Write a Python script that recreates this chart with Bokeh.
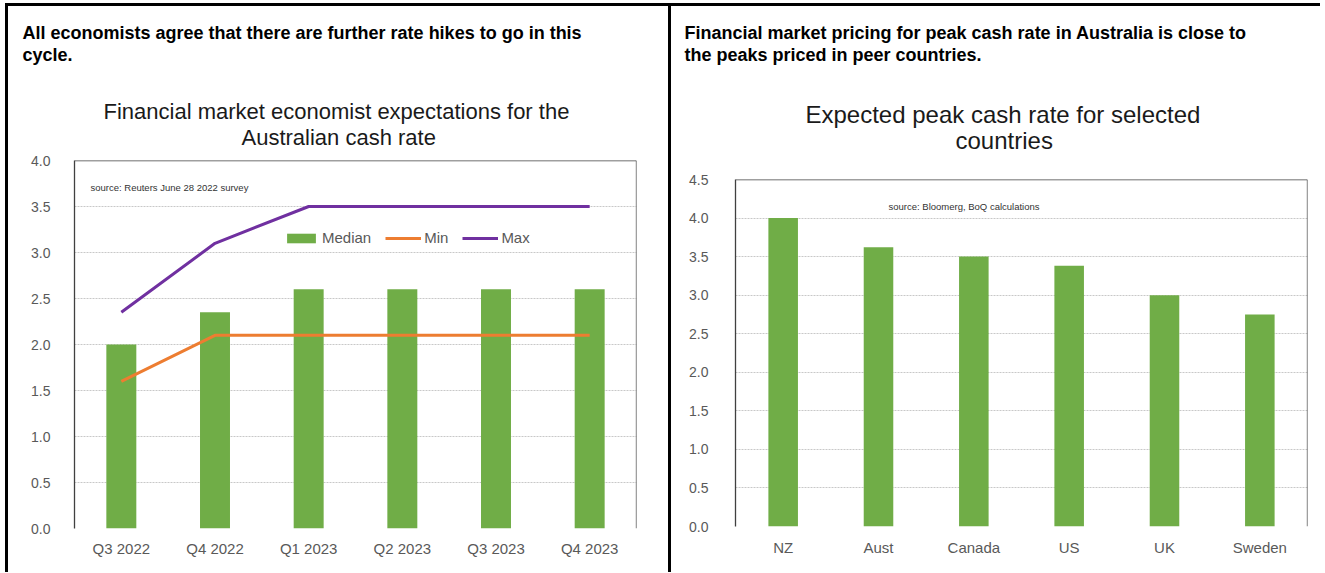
from bokeh.plotting import figure
from bokeh.models import (Label, Legend, LegendItem, Span, FactorRange, Range1d, Title,
                          SingleIntervalTicker, NumeralTickFormatter)
from bokeh.layouts import row, column
from bokeh.embed import file_html
from bokeh.resources import INLINE

# ---- data ----
quarters = ["Q3 2022", "Q4 2022", "Q1 2023", "Q2 2023", "Q3 2023", "Q4 2023"]
median = [2.0, 2.35, 2.6, 2.6, 2.6, 2.6]
minimum = [1.6, 2.1, 2.1, 2.1, 2.1, 2.1]
maximum = [2.35, 3.1, 3.5, 3.5, 3.5, 3.5]

countries = ["NZ", "Aust", "Canada", "US", "UK", "Sweden"]
peak = [4.0, 3.62, 3.5, 3.38, 3.0, 2.75]

GREEN = "#70AD47"
ORANGE = "#ED7D31"
PURPLE = "#7030A0"
FONT = "Liberation Sans"
TICK = "#595959"
FRAME = "#404040"


def style(p, ymax, ystand, xstand):
    p.outline_line_color = None
    p.background_fill_color = "white"
    p.border_fill_color = "white"
    p.xgrid.grid_line_color = None
    p.ygrid.grid_line_color = "#c8c8c8"
    p.ygrid.grid_line_dash = "2 1"
    p.yaxis.ticker = SingleIntervalTicker(interval=0.5)
    p.yaxis.formatter = NumeralTickFormatter(format="0.0")
    for ax in (p.xaxis[0], p.yaxis[0]):
        ax.major_tick_line_color = None
        ax.minor_tick_line_color = None
        ax.major_label_text_font = FONT
        ax.major_label_text_color = TICK
    p.xaxis.major_label_text_font_size = "15px"
    p.yaxis.major_label_text_font_size = "14px"
    p.yaxis.axis_line_color = FRAME
    p.yaxis.axis_line_width = 1.3
    p.xaxis.axis_line_color = None
    p.yaxis.major_label_standoff = ystand
    p.xaxis.major_label_standoff = xstand
    p.add_layout(Span(location=ymax, dimension="width", line_color=FRAME, line_width=1.3))
    p.add_layout(Span(location=6, dimension="height", line_color=FRAME, line_width=1.3))


def spacer(p, s):
    p.add_layout(Title(text=" ", text_font_size="2px", standoff=s), "above")


def ctitle(p, s, off, so, size):
    p.add_layout(Title(text=s, align="left", offset=off, text_font=FONT, text_font_size=size,
                       text_font_style="normal", text_color="#1a1a1a", standoff=so), "above")


def htitle(p, s, off, so):
    p.add_layout(Title(text=s, align="left", offset=off, text_font=FONT, text_font_size="18px",
                       text_font_style="bold", text_color="black", standoff=so), "above")


def source(p, x, y, s):
    p.add_layout(Label(x=x, y=y, x_units="screen", y_units="screen", text=s,
                       text_font=FONT, text_font_size="9.5px", text_color="#333333",
                       text_baseline="middle"))


# ---- left panel ----
p1 = figure(frame_width=562, frame_height=368, x_range=FactorRange(*quarters, range_padding=0),
            y_range=Range1d(0, 4.0), output_backend="svg", toolbar_location=None, title=None,
            min_border_left=66, min_border_right=32, min_border_top=154, min_border_bottom=44)
style(p1, 4.0, 18, 5)
bars1 = p1.vbar(x=quarters, top=median, width=0.32, fill_color=GREEN, line_color=None)
lmin = p1.line(x=quarters, y=minimum, line_color=ORANGE, line_width=3)
lmax = p1.line(x=quarters, y=maximum, line_color=PURPLE, line_width=3)
leg = Legend(items=[LegendItem(label="Median", renderers=[bars1]),
                    LegendItem(label="Min", renderers=[lmin]),
                    LegendItem(label="Max", renderers=[lmax])],
             orientation="horizontal", location=(209, 282), margin=0, padding=0,
             border_line_color=None, background_fill_alpha=0,
             glyph_width=36, glyph_height=12, label_height=12, label_standoff=3, spacing=14,
             label_text_font=FONT, label_text_font_size="15px", label_text_color=TICK)
p1.add_layout(leg, "center")
spacer(p1, 7)
ctitle(p1, "Australian cash rate", 167, 0, "22px")
ctitle(p1, "Financial market economist expectations for the", 29, -3, "22px")
spacer(p1, 29.5)
htitle(p1, "cycle.", -52, 0)
htitle(p1, "All economists agree that there are further rate hikes to go in this", -52, 0)
source(p1, 16, 341, "source:  Reuters June 28 2022 survey")

# ---- right panel ----
p2 = figure(frame_width=572, frame_height=347, x_range=FactorRange(*countries, range_padding=0),
            y_range=Range1d(0, 4.5), output_backend="svg", toolbar_location=None, title=None,
            min_border_left=64, min_border_right=13, min_border_top=173, min_border_bottom=46)
style(p2, 4.5, 21, 6)
p2.vbar(x=countries, top=peak, width=0.31, fill_color=GREEN, line_color=None)
spacer(p2, 22)
ctitle(p2, "countries", 220, 0, "24px")
ctitle(p2, "Expected peak cash rate for selected", 70, -6, "24px")
spacer(p2, 32.5)
htitle(p2, "the peaks priced in peer countries.", -51, 0)
htitle(p2, "Financial market pricing for peak cash rate in Australia is close to", -51, 0)
source(p2, 153, 320, "source:  Bloomerg, BoQ calculations")

left = column(p1, styles={"border-left": "3px solid black", "border-top": "3px solid black"})
right = column(p2, styles={"border-left": "3px solid black", "border-top": "3px solid black"})
layout = row(left, right, spacing=0, margin=(3, 0, 0, 5))

with open("out.html", "w") as f:
    f.write(file_html(layout, INLINE))
